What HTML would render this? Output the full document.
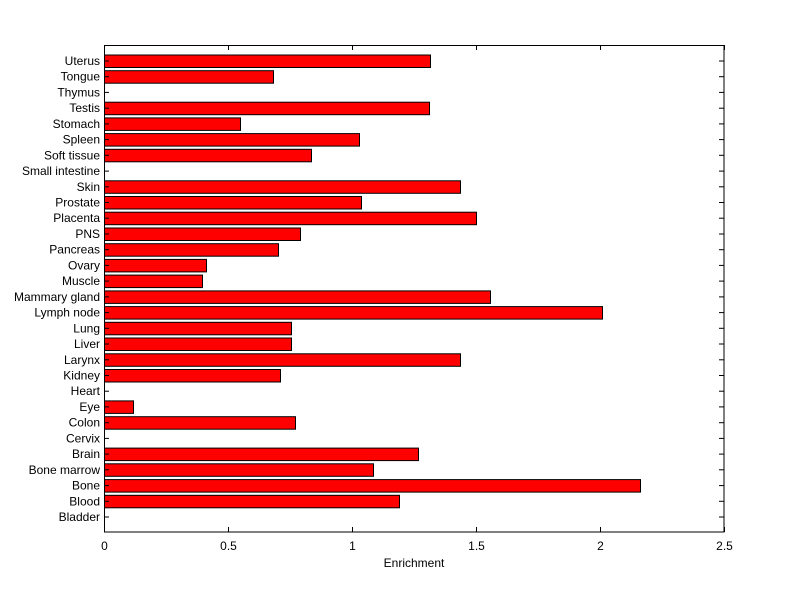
<!DOCTYPE html>
<html><head><style>body{margin:0;background:#fff}svg{display:block}text{font-family:"Liberation Sans",Arial,sans-serif;font-size:12px;fill:#000}</style></head>
<body>
<svg width="800" height="599" viewBox="0 0 800 599" xmlns="http://www.w3.org/2000/svg">
<rect width="800" height="599" fill="#fff"/>
<g id="bars" fill="#ff0000" stroke="#000" stroke-width="1"></g>
<g id="ax" stroke="#000" stroke-width="1" fill="none"></g>
<g id="lbl"></g>
<text x="414" y="567" text-anchor="middle">Enrichment</text>
<script>
var names=["Bladder","Blood","Bone","Bone marrow","Brain","Cervix","Colon","Eye","Heart","Kidney","Larynx","Liver","Lung","Lymph node","Mammary gland","Muscle","Ovary","Pancreas","PNS","Placenta","Prostate","Skin","Small intestine","Soft tissue","Spleen","Stomach","Testis","Thymus","Tongue","Uterus"];
var ends=[104,399,640,373,418,104,295,133,104,280,460,291,291,602,490,202,206,278,300,476,361,460,104,311,359,240,429,104,273,430];
var ns="http://www.w3.org/2000/svg";
function el(t,a,p){var e=document.createElementNS(ns,t);for(var k in a)e.setAttribute(k,a[k]);document.getElementById(p).appendChild(e);return e;}
for(var i=0;i<30;i++){
 var y=517-i*(456/29);
 if(ends[i]>104) el("rect",{x:104.5,y:(y-6).toFixed(1),width:ends[i]-104,height:12.5},"bars");
 el("line",{x1:104,x2:109,y1:y.toFixed(1),y2:y.toFixed(1)},"ax");
 el("line",{x1:719,x2:724,y1:y.toFixed(1),y2:y.toFixed(1)},"ax");
 var t=el("text",{x:100,y:(y+4).toFixed(1),"text-anchor":"end"},"lbl");t.textContent=names[i];
}
el("rect",{x:104.5,y:45.5,width:619.5,height:486.5},"ax");
var xl=["0","0.5","1","1.5","2","2.5"];
for(var j=0;j<6;j++){var x=104.5+j*124;
 el("line",{x1:x,x2:x,y1:532,y2:527},"ax");el("line",{x1:x,x2:x,y1:45,y2:50},"ax");
 var t=el("text",{x:x,y:550,"text-anchor":"middle"},"lbl");t.textContent=xl[j];}
</script>
</svg>
</body></html>
